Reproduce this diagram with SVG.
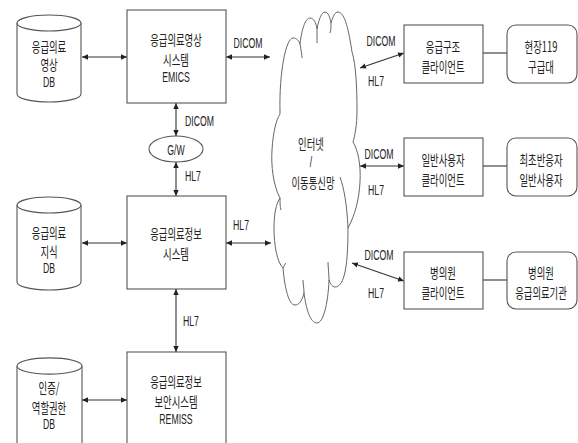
<svg xmlns="http://www.w3.org/2000/svg" width="578" height="443" viewBox="0 0 578 443">
<defs>
<style>
.box{fill:#fff;stroke:#555;stroke-width:1.1}
.ln{fill:none;stroke:#333;stroke-width:1.1}
.cl{fill:#fff;stroke:#666;stroke-width:1}
.st{fill:none;stroke:#666;stroke-width:1}
text{font-family:"Noto Sans CJK KR","Noto Sans",sans-serif;font-size:14px;fill:#222;text-anchor:middle}
text.lat{font-family:"Liberation Sans",Arial,sans-serif;font-size:14.5px}
.l{text-anchor:start}
</style>
<marker id="ah" viewBox="0 0 10 10" refX="10" refY="5" markerWidth="6" markerHeight="6" markerUnits="userSpaceOnUse" orient="auto-start-reverse">
<path d="M0,0.5 L10,5 L0,9.5 z" fill="#222"/>
</marker>
</defs>
<rect width="578" height="443" fill="#fff"/>

<g id="connectors">
<line class="ln" x1="82" y1="57" x2="127" y2="57" marker-start="url(#ah)" marker-end="url(#ah)"/>
<line class="ln" x1="226" y1="57" x2="270" y2="57" marker-start="url(#ah)" marker-end="url(#ah)"/>
<line class="ln" x1="176" y1="103" x2="176" y2="136" marker-start="url(#ah)" marker-end="url(#ah)"/>
<line class="ln" x1="176" y1="162" x2="176" y2="196" marker-start="url(#ah)" marker-end="url(#ah)"/>
<line class="ln" x1="82" y1="243" x2="127" y2="243" marker-start="url(#ah)" marker-end="url(#ah)"/>
<line class="ln" x1="226" y1="243" x2="271" y2="243" marker-start="url(#ah)" marker-end="url(#ah)"/>
<line class="ln" x1="176" y1="289" x2="176" y2="352" marker-start="url(#ah)" marker-end="url(#ah)"/>
<line class="ln" x1="82" y1="400" x2="127" y2="400" marker-start="url(#ah)" marker-end="url(#ah)"/>
<line class="ln" x1="360" y1="68" x2="404" y2="53" marker-start="url(#ah)" marker-end="url(#ah)"/>
<line class="ln" x1="360" y1="166" x2="404" y2="166" marker-start="url(#ah)" marker-end="url(#ah)"/>
<line class="ln" x1="352" y1="263" x2="404" y2="281" marker-start="url(#ah)" marker-end="url(#ah)"/>
<line class="ln" x1="483" y1="53" x2="507" y2="53"/>
<line class="ln" x1="483" y1="166" x2="507" y2="166"/>
<line class="ln" x1="483" y1="280" x2="507" y2="280"/>
<text class="lat" transform="translate(248,48) scale(0.6,1)">DICOM</text>
<text class="lat l" transform="translate(185,126) scale(0.6,1)">DICOM</text>
<text class="lat l" transform="translate(185,181) scale(0.6,1)">HL7</text>
<text class="lat" transform="translate(241,230) scale(0.6,1)">HL7</text>
<text class="lat l" transform="translate(183,326) scale(0.6,1)">HL7</text>
<text class="lat" transform="translate(381,46) scale(0.6,1)">DICOM</text>
<text class="lat" transform="translate(376,86) scale(0.6,1)">HL7</text>
<text class="lat" transform="translate(379,159) scale(0.6,1)">DICOM</text>
<text class="lat" transform="translate(376,195) scale(0.6,1)">HL7</text>
<text class="lat" transform="translate(379,260) scale(0.6,1)">DICOM</text>
<text class="lat" transform="translate(376,298) scale(0.6,1)">HL7</text>
</g>

<g id="db-image">
<path class="box" d="M17,23 A32,8 0 0 1 81,23 L81,94 A32,8 0 0 1 17,94 Z"/>
<path class="box" d="M17,23 A32,8 0 0 0 81,23"/>
<text transform="translate(49,52) scale(0.67,1)"><tspan x="0" y="0">응급의료</tspan><tspan x="0" y="18">영상</tspan></text>
<text class="lat" transform="translate(49,87) scale(0.6,1)">DB</text>
</g>

<g id="emics">
<rect class="box" x="127" y="10" width="99" height="93"/>
<text transform="translate(176,45) scale(0.67,1)"><tspan x="0" y="0">응급의료영상</tspan><tspan x="0" y="20">시스템</tspan></text>
<text class="lat" transform="translate(176,82) scale(0.6,1)">EMICS</text>
</g>

<g id="gw">
<ellipse class="box" cx="176" cy="149" rx="27" ry="13"/>
<text class="lat" transform="translate(176,155) scale(0.6,1)">G/W</text>
</g>

<g id="db-knowledge">
<path class="box" d="M17,205 A32,8 0 0 1 81,205 L81,282 A32,8 0 0 1 17,282 Z"/>
<path class="box" d="M17,205 A32,8 0 0 0 81,205"/>
<text transform="translate(49,238) scale(0.67,1)"><tspan x="0" y="0">응급의료</tspan><tspan x="0" y="19">지식</tspan></text>
<text class="lat" transform="translate(49,273) scale(0.6,1)">DB</text>
</g>

<g id="info">
<rect class="box" x="127" y="196" width="99" height="93"/>
<text transform="translate(176,239) scale(0.67,1)"><tspan x="0" y="0">응급의료정보</tspan><tspan x="0" y="20">시스템</tspan></text>
</g>

<g id="db-auth">
<path class="box" d="M17,366 A32,8 0 0 1 82,366 L82,460 L17,460 Z"/>
<path class="box" d="M17,366 A32,8 0 0 0 82,366"/>
<text transform="translate(49,393) scale(0.67,1)"><tspan x="0" y="0">인증/</tspan><tspan x="0" y="20">역할권한</tspan></text>
<text class="lat" transform="translate(49,429) scale(0.6,1)">DB</text>
</g>

<g id="remiss">
<rect class="box" x="127" y="352" width="99" height="110"/>
<text transform="translate(176,387) scale(0.67,1)"><tspan x="0" y="0">응급의료정보</tspan><tspan x="0" y="20">보안시스템</tspan></text>
<text class="lat" transform="translate(176,424) scale(0.6,1)">REMISS</text>
</g>

<g id="cloud">
<path class="cl" d="M280,112 C279,72 286,38 293,38 C297,38 299,41 300,44 C302,27 306,18 310,18 C314,18 316,23 317,29 C319,18 322,12 325,12 C328,12 330,17 331,23 C333,16 335,12 338,12 C345,12 349,32 352,52 C356,64 357,90 357,110 C357,125 355,135 353,142 C358,150 361,165 360,182 C359,200 355,215 348,228 C348,248 347,266 344,276 C342,283 339,287 335,287 C332,287 330,283 329,280 C328,305 323,323 317,323 C310,323 306,308 304,293 C302,301 299,305 295,305 C289,305 285,290 283,268 C277,262 274,245 274,228 C274,214 276,204 280,198 C273,185 271,165 272,150 C273,133 276,120 280,114 Z"/>
<path class="st" d="M300,44 C301,50 302,55 302,58 M317,29 C317,35 317,40 317,43 M331,23 C331,27 331,30 330,33 M348,228 C347,205 344,188 340,177 M280,198 C280,203 280,207 281,210 M283,268 C284,266 285,264 286,263 M304,293 C304,288 303,284 303,280 M329,280 C329,273 328,267 328,262"/>
<text transform="translate(311,149) scale(0.67,1)">인터넷</text>
<text class="lat" transform="translate(311,167) scale(0.6,1)">/</text>
<text transform="translate(313,188) scale(0.67,1)">이동통신망</text>
</g>

<g id="rescue-client">
<rect class="box" x="404" y="25" width="79" height="58"/>
<text transform="translate(443,52) scale(0.67,1)"><tspan x="0" y="0">응급구조</tspan><tspan x="0" y="20">클라이언트</tspan></text>
</g>
<g id="site119">
<rect class="box" x="507" y="25" width="70" height="58" rx="9"/>
<text transform="translate(541,52) scale(0.67,1)"><tspan x="0" y="0">현장119</tspan><tspan x="0" y="20">구급대</tspan></text>
</g>

<g id="general-client">
<rect class="box" x="404" y="138" width="79" height="58"/>
<text transform="translate(443,165) scale(0.67,1)"><tspan x="0" y="0">일반사용자</tspan><tspan x="0" y="20">클라이언트</tspan></text>
</g>
<g id="first-responder">
<rect class="box" x="507" y="138" width="70" height="58" rx="9"/>
<text transform="translate(541,165) scale(0.67,1)"><tspan x="0" y="0">최초반응자</tspan><tspan x="0" y="20">일반사용자</tspan></text>
</g>

<g id="hospital-client">
<rect class="box" x="404" y="252" width="79" height="57"/>
<text transform="translate(443,278) scale(0.67,1)"><tspan x="0" y="0">병의원</tspan><tspan x="0" y="20">클라이언트</tspan></text>
</g>
<g id="hospital">
<rect class="box" x="507" y="252" width="70" height="57" rx="9"/>
<text transform="translate(541,278) scale(0.67,1)"><tspan x="0" y="0">병의원</tspan><tspan x="0" y="20">응급의료기관</tspan></text>
</g>
</svg>
